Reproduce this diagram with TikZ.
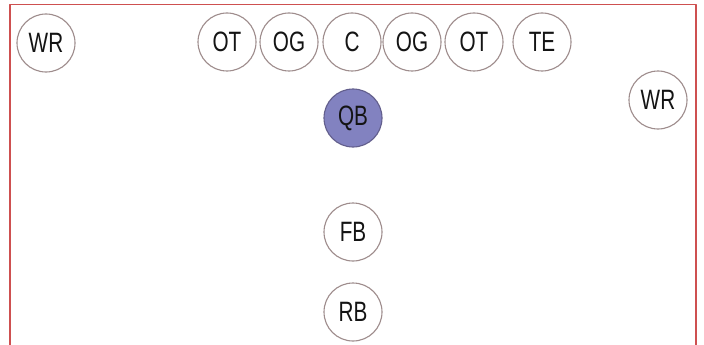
\documentclass[tikz,border=0pt]{standalone}
\usepackage{fontspec}
\newfontfamily\playerfont[FakeStretch=0.74]{Liberation Sans}
\definecolor{frameRed}{RGB}{206,80,80}
\definecolor{ringGray}{RGB}{158,140,140}
\definecolor{qbBlue}{RGB}{130,130,192}
\definecolor{qbRing}{RGB}{98,94,140}

\begin{document}
\begin{tikzpicture}[x=1pt, y=-1pt, line cap=round, line join=round,
    player/.style={circle, draw=ringGray, line width=1.1pt, fill=white,
      minimum size=58pt, inner sep=0pt,
      font=\playerfont\fontsize{28}{32}\selectfont, text=black!92}]

  %% ---- page + frame ----
  \useasboundingbox (0,0) rectangle (704,345);
  \fill[white] (0,0) rectangle (704,345);
  \draw[frameRed, line width=1.4pt] (10,345) -- (10,4.5) -- (696,4.5) -- (696,345);

  %% ---- line of scrimmage ----
  \node[player] (wrL) at (46,43)  {WR};
  \node[player] (otL) at (227,42) {OT};
  \node[player] (ogL) at (289,42) {OG};
  \node[player] (c)   at (352,42) {C};
  \node[player] (ogR) at (412,42) {OG};
  \node[player] (otR) at (474,42) {OT};
  \node[player] (te)  at (542,42) {TE};
  \node[player] (wrR) at (658,100) {WR};

  %% ---- backfield ----
  \node[player, fill=qbBlue, draw=qbRing] (qb) at (353,118) {QB};
  \node[player] (fb) at (353,232) {FB};
  \node[player] (rb) at (353,312) {RB};

\end{tikzpicture}
\end{document}
